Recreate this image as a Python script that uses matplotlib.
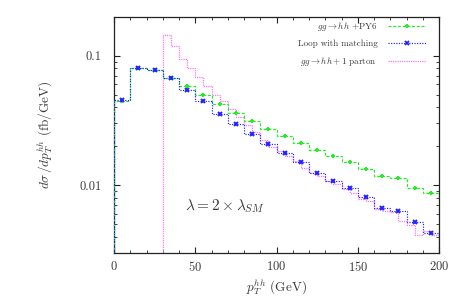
import matplotlib
matplotlib.use("Agg")
import matplotlib.pyplot as plt
from matplotlib.lines import Line2D
from matplotlib.ticker import FixedLocator, NullFormatter, FixedFormatter
import numpy as np

plt.rcParams['font.family'] = ['cmr10', 'DejaVu Serif']
plt.rcParams['mathtext.fontset'] = 'cm'
plt.rcParams['axes.formatter.use_mathtext'] = True

# ---- data ----
edges10 = [0, 10, 20, 30, 40, 50, 60, 70, 80, 90, 100, 110, 120, 130, 140,
           150, 160, 170, 180, 190, 200]
py6 = [0.0451, 0.0804, 0.0780, 0.0673, 0.0580, 0.0495, 0.0423, 0.0362,
       0.0314, 0.0270, 0.0239, 0.0213, 0.0188, 0.0168, 0.0152, 0.0133,
       0.0117, 0.0113, 0.0096, 0.0087]
loop = [0.0455, 0.0804, 0.0780, 0.0673, 0.0540, 0.0446, 0.0356, 0.0298,
        0.0247, 0.0207, 0.0178, 0.0151, 0.0124, 0.0108, 0.0095, 0.0081,
        0.0067, 0.0063, 0.0052, 0.0043]
edges5 = [30, 35, 40, 45, 50, 55, 60, 65, 70, 75, 80, 85, 90, 95, 100, 105,
          110, 115, 120, 125, 130, 135, 140, 145, 150, 155, 160, 165, 170,
          175, 180, 185, 190, 195, 200]
parton = [0.145, 0.118, 0.094, 0.080, 0.068, 0.058, 0.050, 0.0445, 0.0389,
          0.0337, 0.0294, 0.0257, 0.0222, 0.0198, 0.0184, 0.0168, 0.0154,
          0.0137, 0.0125, 0.0117, 0.0108, 0.0102, 0.0093, 0.0087, 0.0079,
          0.0076, 0.0066, 0.0063, 0.0062, 0.0053, 0.0049, 0.0041, 0.0044,
          0.0041]
labels = [r"$gg\rightarrow hh$ +PY6", "Loop with matching",
          r"$gg\rightarrow hh+1$ parton"]
xticks = [0, 50, 100, 150, 200]
yticks = [0.1, 0.01]
ytick_labels = ["0.1", "0.01"]

green = '#22ee22'
blue = '#2222ff'
pink = '#ff77ff'
txt = '#3a3a3a'

fig = plt.figure(figsize=(4.63, 2.96), dpi=100)
ax = fig.add_axes([114/463, 1-253/296, (439-114)/463, (253-16.7)/296])
ax.set_yscale('log')
ax.set_xlim(0, 200)
ax.set_ylim(0.003, 0.2)

ax.stairs(parton, edges5, baseline=1e-5, color=pink, lw=0.9,
          ls=(0, (1, 0.8)), zorder=2)
ax.stairs(py6, edges10, baseline=1e-5, color=green, lw=0.85,
          ls=(0, (2.5, 1.5)), zorder=3)
ax.stairs(loop, edges10, baseline=1e-5, color=blue, lw=0.85,
          ls=(0, (1, 1.2)), zorder=4)
c10 = (np.array(edges10[:-1]) + np.array(edges10[1:])) / 2
ax.plot(c10, py6, ls='none', marker='+', ms=3.5, mew=1.4, color=green, zorder=5)
ax.plot(c10, loop, ls='none', marker='x', ms=3.2, mew=1.4, color=blue, zorder=6)

ax.xaxis.set_major_locator(FixedLocator(xticks))
ax.xaxis.set_minor_locator(FixedLocator(list(range(0, 201, 10))))
ax.yaxis.set_major_locator(FixedLocator(yticks))
ax.yaxis.set_major_formatter(FixedFormatter(ytick_labels))
minors = [m * 10.0**e for e in (-3, -2, -1) for m in range(2, 10)]
ax.yaxis.set_minor_locator(FixedLocator(minors))
ax.yaxis.set_minor_formatter(NullFormatter())
ax.tick_params(which='both', direction='in', top=True, right=True,
               labelsize=9, colors='#222222', labelcolor=txt)
ax.tick_params(which='major', length=4.5, width=0.8)
ax.tick_params(which='minor', length=2.5, width=0.6)
ax.tick_params(axis='x', pad=5)
ax.tick_params(axis='y', pad=9)
for s in ax.spines.values():
    s.set_color('#222222')
    s.set_linewidth(0.9)

ax.set_xlabel(r"$p_T^{hh}$ (GeV)", fontsize=9.5, color=txt, labelpad=2)
ax.set_ylabel(r"$d\sigma\,/dp_T^{hh}$ (fb/GeV)", fontsize=9.5, color=txt,
              labelpad=18)

ax.text(68, 0.0069, r"$\lambda = 2\times\lambda_{SM}$", fontsize=11,
        color=txt, ha='center', va='center')

handles = [Line2D([], [], color=green, ls=(0, (2.5, 1.5)), lw=0.85, marker='+',
                  ms=3.5, mew=1.3),
           Line2D([], [], color=blue, ls=(0, (1, 1.2)), lw=0.85, marker='x',
                  ms=3.2, mew=1.3),
           Line2D([], [], color=pink, ls=(0, (1, 0.8)), lw=0.9)]
leg = ax.legend(handles, labels, loc='upper right', markerfirst=False,
                frameon=False, fontsize=6.5, numpoints=1, handlelength=4.2,
                handletextpad=1.2, labelspacing=0.75,
                bbox_to_anchor=(0.985, 1.02))
for t in leg.get_texts():
    t.set_color(txt)

fig.savefig('out.png', dpi=100)
